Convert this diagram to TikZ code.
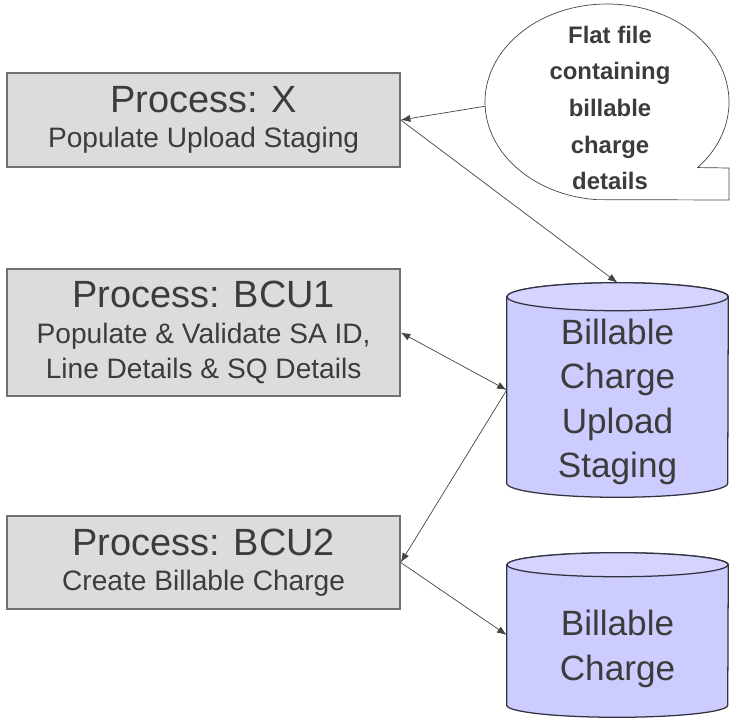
\documentclass[tikz,border=0pt]{standalone}
\usepackage{fontspec}
\setmainfont{Liberation Sans}
\usetikzlibrary{arrows.meta,positioning,shapes.geometric}
\definecolor{Ink}{HTML}{3C3C3C}
\definecolor{Wire}{HTML}{444444}
\definecolor{BoxFill}{HTML}{DCDCDC}
\definecolor{BoxLine}{HTML}{707070}
\definecolor{CylFill}{HTML}{CCCCFF}
\definecolor{CylTop}{HTML}{D4D4FF}
\definecolor{CylLine}{HTML}{333340}

\begin{document}
\begin{tikzpicture}[
        procbox/.style={rectangle,draw=BoxLine,fill=BoxFill,line width=0.9pt,minimum width=9.825cm,inner sep=0pt,align=center,text=Ink,font=\fontsize{20}{25}\selectfont},
        store/.style={rectangle,minimum width=5.525cm,inner sep=0pt},
        cylline/.style={draw=CylLine,line width=0.9pt},
        storetext/.style={align=center,text=Ink,font=\fontsize{25}{31.5}\selectfont},
        bubbletext/.style={align=center,text=Ink,font=\bfseries\fontsize{17}{26}\selectfont},
        arr/.style={-{Latex[length=2.4mm,width=1.8mm]},draw=Wire,line width=0.5pt},
        arrboth/.style={{Latex[length=2.4mm,width=1.8mm]}-{Latex[length=2.4mm,width=1.8mm]},draw=Wire,line width=0.5pt}]
        \useasboundingbox (0,0) rectangle (18.275,17.975);
        \node[procbox,minimum height=2.35cm] (px) at (5.09,14.975) {{\fontsize{27}{25}\selectfont Process: X}\\Populate Upload Staging};
        \node[procbox,minimum height=3.175cm] (bcu1) at (5.09,9.6625) {{\fontsize{27}{25}\selectfont Process: BCU1}\\Populate \& Validate SA ID,\\Line Details \& SQ Details};
        \node[procbox,minimum height=2.325cm] (bcu2) at (5.09,3.9125) {{\fontsize{27}{25}\selectfont Process: BCU2}\\Create Billable Charge};
        \node[store,minimum height=5.35cm] (stage) at (15.4375,8.225) {};
        \node[store,minimum height=4.1cm] (bill) at (15.4375,2.1) {};
        % cylinder bodies and lids
        \foreach \c/\r in {stage/0.35,bill/0.3} {
          \path[cylline,fill=CylFill] ([yshift=-\r cm]\c.north west) -- ([yshift=\r cm]\c.south west)
            arc[start angle=180,end angle=360,x radius=2.7625,y radius=\r] -- ([yshift=-\r cm]\c.north east)
            arc[start angle=0,end angle=180,x radius=2.7625,y radius=\r] -- cycle;
          \draw[cylline,fill=CylTop] ([yshift=-\r cm]\c.north) ellipse[x radius=2.7625,y radius=\r];
        }
        \node[storetext] (stagetext) at ([yshift=-0.3cm]stage.center) {Billable\\Charge\\Upload\\Staging};
        \node[storetext] (billtext) at ([yshift=-0.35cm]bill.center) {Billable\\Charge};
        % callout with its corner tail
        \node[ellipse,minimum width=6.1cm,minimum height=4.9cm,inner sep=0pt] (flat) at (15.175,15.425) {};
        \coordinate (tip) at (18.225,12.975);
        \draw[draw=Wire,line width=0.5pt] (flat.center) ++(-42:3.05 and 2.45) arc[start angle=-42,end angle=265,x radius=3.05,y radius=2.45] -- (tip) -- ++(0,0.8) -- cycle;
        \node[bubbletext] (flattext) at (15.25,15.275) {Flat file\\containing\\billable\\charge\\details};
        \draw[arr] (flat.182) -- (px.east);
        \draw[arr] (px.east) -- (stage.north);
        \draw[arrboth] (bcu1.east) -- (stage.west);
        \draw[arr] (stage.west) -- (bcu2.east);
        \draw[arr] (bcu2.east) -- (bill.west);
      \end{tikzpicture}
\end{document}
